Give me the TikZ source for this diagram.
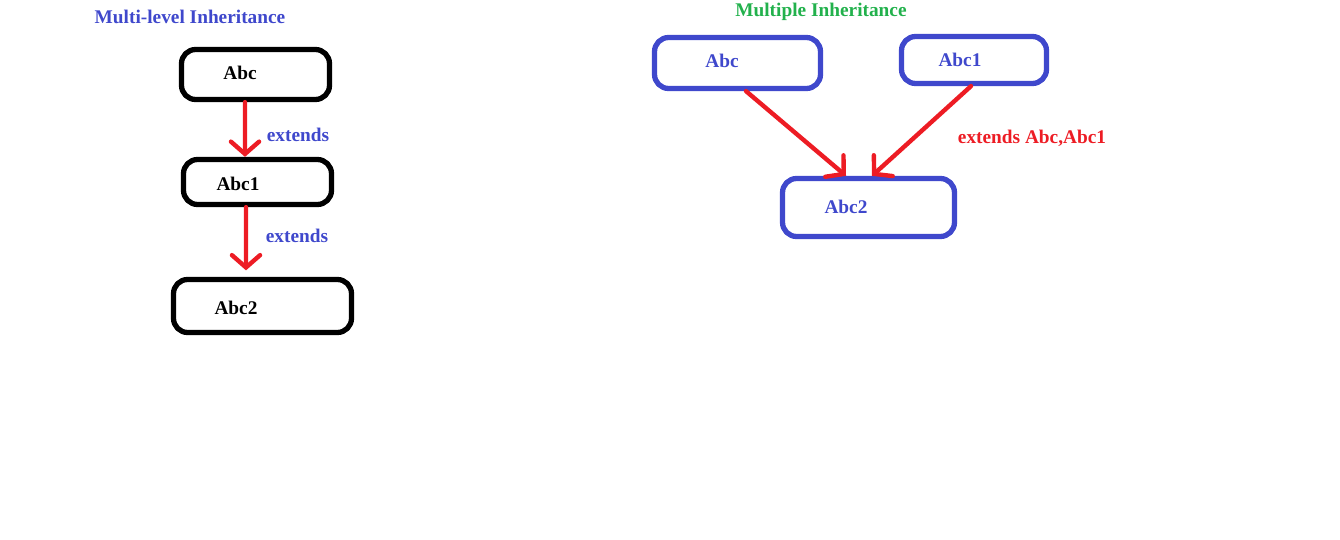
\documentclass[tikz,border=0pt]{standalone}
\usepackage{fontspec}
\setmainfont{Liberation Serif}
\usetikzlibrary{arrows.meta}
\definecolor{paintblue}{RGB}{63,72,204}
\definecolor{paintred}{RGB}{237,28,36}
\definecolor{paintgreen}{RGB}{34,177,76}
\begin{document}
\begin{tikzpicture}[x=.02cm, y=-.02cm, font=\bfseries\fontsize{11}{13}\selectfont, line join=round, line cap=round,
	cls/.style={draw, line width=3pt, rounded corners=8pt, inner sep=0pt},
	ext/.style={paintred, line width=2.5pt, -{Straight Barb[length=7pt, width=16pt, line cap=round]}}]
	\useasboundingbox (0,0) rectangle (1340,540);
	% multi-level
	\node[paintblue] (titleA) at (190,17) {Multi-level Inheritance};
	\node[cls, minimum width=2.96cm, minimum height=1cm] (abc) at (255.5,74.5) {};
	\node[cls, minimum width=2.96cm, minimum height=.9cm] (abcone) at (257.5,182) {};
	\node[cls, minimum width=3.56cm, minimum height=1.06cm] (abctwo) at (262.5,306) {};
	\node (abcT) at (240,73) {Abc};
	\node (abconeT) at (238,184) {Abc1};
	\node (abctwoT) at (236,308) {Abc2};
	\draw[ext] ([xshift=-.21cm]abc.south) -- ([xshift=-.25cm]abcone.north);
	\draw[ext] ([xshift=-.23cm]abcone.south) -- ([xshift=-.33cm, yshift=.13cm]abctwo.north);
	\node[paintblue] (extA) at (298,135) {extends};
	\node[paintblue] (extB) at (297,236) {extends};
	% multiple
	\node[paintgreen] (titleB) at (821,12) {Multiple Inheritance};
	\node[cls, paintblue, minimum width=3.32cm, minimum height=1.02cm] (pabc) at (737.5,63) {};
	\node[cls, paintblue, minimum width=2.9cm, minimum height=.94cm] (pabcone) at (974,60) {};
	\node[cls, paintblue, minimum width=3.44cm, minimum height=1.16cm] (pabctwo) at (868.5,207.5) {};
	\node[paintblue] (pabcT) at (722,61) {Abc};
	\node[paintblue] (pabconeT) at (960,60) {Abc1};
	\node[paintblue] (pabctwoT) at (846,207) {Abc2};
	\draw[ext] ([xshift=.17cm]pabc.south) -- ([xshift=-.45cm]pabctwo.north);
	\draw[ext] ([xshift=-.06cm]pabcone.south) -- ([xshift=.07cm]pabctwo.north);
	\node[paintred] (extC) at (1032,138) {extends Abc,Abc1};
\end{tikzpicture}
\end{document}
